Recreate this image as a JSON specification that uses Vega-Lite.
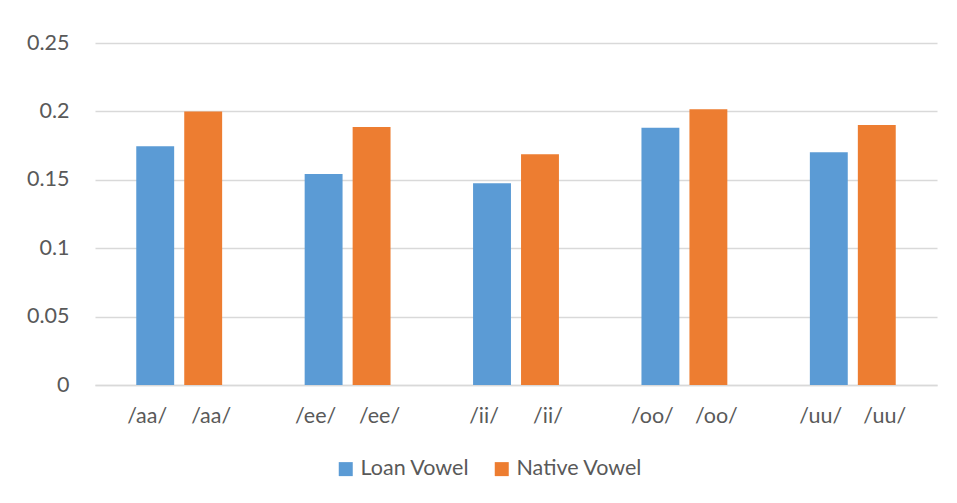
{
  "$schema": "https://vega.github.io/schema/vega-lite/v6.json",
  "width": 842,
  "height": 342,
  "autosize": {"type": "none"},
  "padding": {"left": 95, "top": 43, "right": 20, "bottom": 118},
  "background": "white",
  "config": {"view": {"stroke": null}, "font": "Lato"},
  "data": {
    "values": [
      {"vowel": "/aa/", "series": "Loan Vowel", "value": 0.1745},
      {"vowel": "/aa/", "series": "Native Vowel", "value": 0.2},
      {"vowel": "/ee/", "series": "Loan Vowel", "value": 0.1542},
      {"vowel": "/ee/", "series": "Native Vowel", "value": 0.1886},
      {"vowel": "/ii/", "series": "Loan Vowel", "value": 0.1474},
      {"vowel": "/ii/", "series": "Native Vowel", "value": 0.1686},
      {"vowel": "/oo/", "series": "Loan Vowel", "value": 0.188},
      {"vowel": "/oo/", "series": "Native Vowel", "value": 0.2015},
      {"vowel": "/uu/", "series": "Loan Vowel", "value": 0.1701},
      {"vowel": "/uu/", "series": "Native Vowel", "value": 0.19}
    ]
  },
  "layer": [
    {
      "mark": {"type": "bar"},
      "encoding": {
        "x": {
          "field": "vowel", "type": "nominal",
          "sort": ["/aa/", "/ee/", "/ii/", "/oo/", "/uu/"],
          "scale": {"paddingInner": 0, "paddingOuter": 0},
          "axis": {"labels": false, "ticks": false, "title": null, "domainColor": "#D9D9D9", "domainWidth": 1.5}
        },
        "xOffset": {
          "field": "series", "type": "nominal",
          "scale": {"domain": ["Loan Vowel", "Native Vowel"], "paddingInner": 0.21, "paddingOuter": 0.86}
        },
        "y": {
          "field": "value", "type": "quantitative",
          "scale": {"domain": [0, 0.25], "nice": false},
          "axis": {
            "values": [0, 0.05, 0.1, 0.15, 0.2, 0.25], "format": "~g", "title": null,
            "domain": false, "ticks": false, "labelPadding": 26, "labelFontSize": 21.5,
            "labelColor": "#595959", "gridColor": "#D9D9D9", "gridWidth": 1.3
          }
        },
        "color": {
          "field": "series", "type": "nominal",
          "scale": {"domain": ["Loan Vowel", "Native Vowel"], "range": ["#5B9BD5", "#ED7D31"]},
          "legend": {
            "orient": "none", "legendX": 240, "legendY": 415, "direction": "horizontal",
            "title": null, "symbolType": "square", "symbolSize": 196, "symbolStrokeWidth": 0,
            "labelFontSize": 21.5, "labelColor": "#595959", "columnPadding": 21, "labelOffset": 4
          }
        }
      }
    },
    {
      "transform": [{"filter": "datum.series === 'Loan Vowel'"}],
      "mark": {"type": "text", "dy": 32, "dx": -8, "fontSize": 21.5, "color": "#595959", "baseline": "middle"},
      "encoding": {
        "x": {"field": "vowel", "type": "nominal", "sort": ["/aa/", "/ee/", "/ii/", "/oo/", "/uu/"]},
        "xOffset": {"field": "series", "type": "nominal"},
        "y": {"datum": 0},
        "text": {"field": "vowel"}
      }
    },
    {
      "transform": [{"filter": "datum.series === 'Native Vowel'"}],
      "mark": {"type": "text", "dy": 32, "dx": 8, "fontSize": 21.5, "color": "#595959", "baseline": "middle"},
      "encoding": {
        "x": {"field": "vowel", "type": "nominal", "sort": ["/aa/", "/ee/", "/ii/", "/oo/", "/uu/"]},
        "xOffset": {"field": "series", "type": "nominal"},
        "y": {"datum": 0},
        "text": {"field": "vowel"}
      }
    }
  ]
}
